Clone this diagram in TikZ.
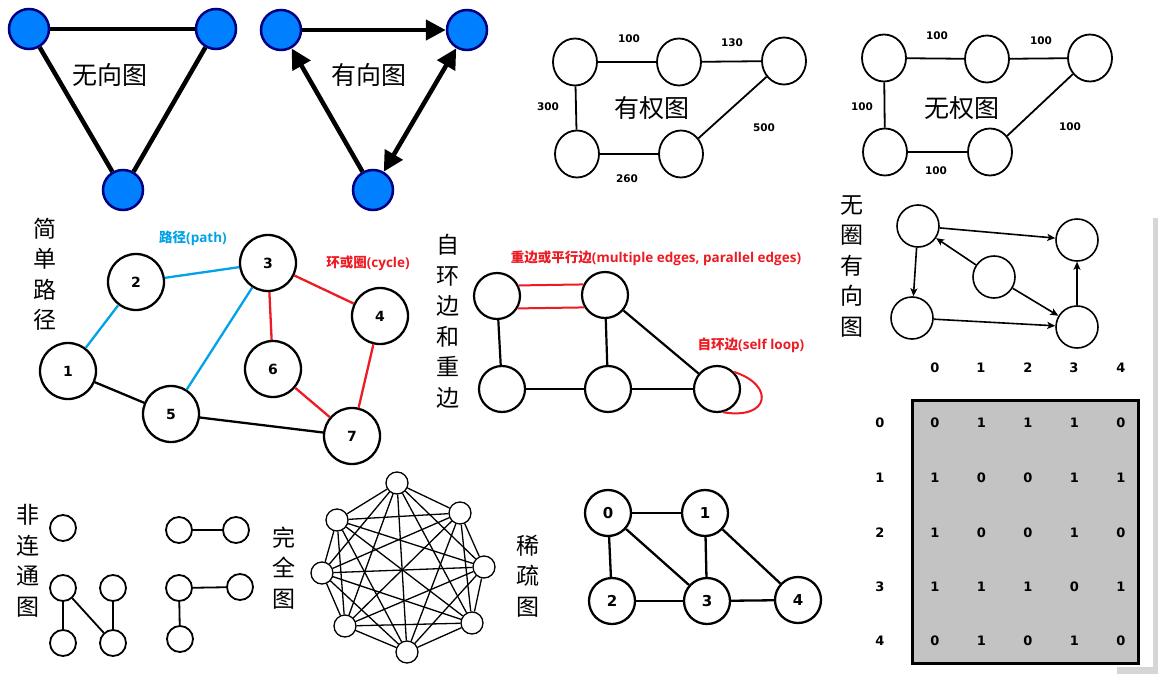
\documentclass[tikz,border=0pt]{standalone}
\usepackage{fontspec}
\setmainfont{DejaVu Sans}
\newfontfamily\cjk{Noto Sans CJK SC}
\newfontfamily\numf{DejaVu Sans}
\newfontfamily\osans{Open Sans}
\usetikzlibrary{arrows.meta,shapes.geometric}
\definecolor{nodeblue}{RGB}{0,128,255}
\definecolor{navy}{RGB}{0,0,128}
\definecolor{pathblue}{RGB}{0,162,232}
\definecolor{cyclered}{RGB}{237,28,36}
\definecolor{matgray}{RGB}{195,195,195}
\definecolor{shadowgray}{RGB}{214,214,214}
\newcommand{\mixlab}[2]{{\cjk\bfseries #1}{\osans\bfseries #2}}
\tikzset{
  bnode/.style={circle, draw=navy, fill=nodeblue, line width=2.5pt, minimum size=40pt, inner sep=0pt},
  fat/.style={line width=4.5pt},
  bigtip/.style={-{Triangle[length=20pt,width=20pt]}},
  bigtips/.style={{Triangle[length=20pt,width=20pt]}-{Triangle[length=20pt,width=20pt]}},
  wnode/.style={ellipse, draw, fill=white, line width=1.8pt, minimum width=44pt, minimum height=47pt, inner sep=0pt},
  wline/.style={line width=1.8pt},
  wlab/.style={font=\numf\bfseries\fontsize{10.5}{10.5}\selectfont, inner sep=0pt},
  cjkbig/.style={font=\cjk\fontsize{25}{25}\selectfont, inner sep=0pt},
  vlabel/.style={font=\cjk\fontsize{23}{30.5}\selectfont, align=center, inner sep=0pt},
  pnode/.style={circle, draw, fill=white, line width=2.3pt, minimum size=56pt, inner sep=0pt, font=\numf\bfseries\fontsize{14}{14}\selectfont},
  pline/.style={line width=2.3pt},
  mnode/.style={circle, draw, fill=white, line width=2.2pt, minimum size=46pt, inner sep=0pt},
  mline/.style={line width=2.2pt},
  redlab/.style={text=cyclered, font=\fontsize{13.5}{13.5}\selectfont, inner sep=0pt},
  bluelab/.style={text=pathblue, font=\fontsize{13.5}{13.5}\selectfont, inner sep=0pt},
  dnode/.style={circle, draw, fill=white, line width=1.6pt, minimum size=42pt, inner sep=0pt},
  darrow/.style={line width=1.6pt, -{Stealth[length=8pt,width=7pt,inset=2pt]}},
  snode/.style={circle, draw, fill=white, line width=1.8pt, minimum size=26pt, inner sep=0pt},
  sline/.style={line width=1.8pt},
  knode/.style={circle, draw, fill=white, line width=1.3pt, minimum size=22pt, inner sep=0pt},
  kline/.style={line width=1.3pt},
  spnode/.style={circle, draw, fill=white, line width=2.3pt, minimum size=46pt, inner sep=0pt, font=\numf\bfseries\fontsize{15}{15}\selectfont},
  matlab/.style={font=\numf\bfseries\fontsize{13}{13}\selectfont, inner sep=0pt},
}
\begin{document}
\begin{tikzpicture}[x=1pt,y=-1pt]
\useasboundingbox (0,0) rectangle (1158,674);
\fill[white] (0,0) rectangle (1158,674);

% shadow strips at right edge
\fill[shadowgray] (1153,218) rectangle (1158,674);
\fill[shadowgray] (1117,667) rectangle (1158,674);

% ---------- undirected graph ----------
\node[bnode] (u1) at (29,29) {};
\node[bnode] (u2) at (216,29) {};
\node[bnode] (u3) at (123,190) {};
\draw[fat] (u1) -- (u2);
\draw[fat] (u1) -- (u3);
\draw[fat] (u2) -- (u3);
\node[cjkbig] (ulab) at (110,75) {无向图};

% ---------- directed graph ----------
\node[bnode] (d1) at (281,30) {};
\node[bnode] (d2) at (467,30) {};
\node[bnode] (d3) at (373,190) {};
\draw[fat,bigtip] (d1) -- (d2);
\draw[fat,bigtip] (d3) -- (d1);
\draw[fat,bigtips] (d2) -- (d3);
\node[cjkbig] (dlab) at (369,75) {有向图};

% ---------- weighted graph ----------
\node[wnode] (wa) at (575,62) {};
\node[wnode] (wb) at (679,62) {};
\node[wnode] (wc) at (784,61) {};
\node[wnode] (wd) at (577,154) {};
\node[wnode] (we) at (681,154) {};
\draw[wline] (wa) -- (wb);
\draw[wline] (wb) -- (wc);
\draw[wline] (wa) -- (wd);
\draw[wline] (wd) -- (we);
\draw[wline] (we) -- (wc);
\node[wlab] (w1) at (629,39) {100};
\node[wlab] (w2) at (732,43) {130};
\node[wlab] (w3) at (548,107) {300};
\node[wlab] (w4) at (764,128) {500};
\node[wlab] (w5) at (627,179) {260};
\node[cjkbig] (wlabel) at (652,108) {有权图};

% ---------- unweighted graph ----------
\node[wnode] (va) at (884,58) {};
\node[wnode] (vb) at (987,59) {};
\node[wnode] (vc) at (1090,58) {};
\node[wnode] (vd) at (885,152) {};
\node[wnode] (ve) at (990,152) {};
\draw[wline] (va) -- (vb);
\draw[wline] (vb) -- (vc);
\draw[wline] (va) -- (vd);
\draw[wline] (vd) -- (ve);
\draw[wline] (ve) -- (vc);
\node[wlab] (v1) at (937,36) {100};
\node[wlab] (v2) at (1041,41) {100};
\node[wlab] (v3) at (862,107) {100};
\node[wlab] (v4) at (1070,127) {100};
\node[wlab] (v5) at (936,171) {100};
\node[cjkbig] (vlabel0) at (962,108) {无权图};

% ---------- simple path ----------
\node[vlabel] (plab) at (45,274) {简\\单\\路\\径};
\node[pnode] (p1) at (68,371) {1};
\node[pnode] (p2) at (136,282) {2};
\node[pnode] (p3) at (268,263) {3};
\node[pnode] (p4) at (380,316) {4};
\node[pnode] (p5) at (171,414) {5};
\node[pnode] (p6) at (273,369) {6};
\node[pnode] (p7) at (352,436) {7};
\draw[pline,pathblue] (p1) -- (p2);
\draw[pline,pathblue] (p2) -- (p3);
\draw[pline,pathblue] (p3) -- (p5);
\draw[pline,cyclered] (p3) -- (p4);
\draw[pline,cyclered] (p3) -- (p6);
\draw[pline,cyclered] (p6) -- (p7);
\draw[pline,cyclered] (p4) -- (p7);
\draw[pline] (p1) -- (p5);
\draw[pline] (p5) -- (p7);
\node[bluelab] (pathlab) at (193,238) {\mixlab{路径}{(path)}};
\node[redlab] (cyclab) at (368,263) {\mixlab{环或圈}{(cycle)}};

% ---------- self loop and multiple edges ----------
\node[vlabel] (mlab) at (448,321.5) {自\\环\\边\\和\\重\\边};
\node[mnode] (ma) at (497,296) {};
\node[mnode] (mb) at (605,295) {};
\node[mnode] (mc) at (502,389) {};
\node[mnode] (md) at (608,389) {};
\node[mnode] (me) at (717,389) {};
\draw[mline] (ma) -- (mc);
\draw[mline] (mb) -- (md);
\draw[mline] (mc) -- (md);
\draw[mline] (md) -- (me);
\draw[mline] (mb) -- (me);
\draw[line width=2pt,cyclered] (ma.26) -- (mb.154);
\draw[line width=2pt,cyclered] (ma.-31) -- (mb.-149);
\draw[line width=2pt,cyclered] (me.45) .. controls (775,385) and (770,420) .. (me.-75);
\node[redlab] (multlab) at (656,258) {\mixlab{重边或平行边}{(multiple edges, parallel edges)}};
\node[redlab] (looplab) at (751,345) {\mixlab{自环边}{(self loop)}};

% ---------- DAG ----------
\node[vlabel] (dagl) at (852,266.5) {无\\圈\\有\\向\\图};
\node[dnode] (ga) at (918,226) {};
\node[dnode] (gb) at (1077,240) {};
\node[dnode] (gc) at (994,277) {};
\node[dnode] (gd) at (912,318) {};
\node[dnode] (ge) at (1077,327) {};
\draw[darrow] (ga) -- (gb);
\draw[darrow] (ga) -- (gd);
\draw[darrow] (gc) -- (ga);
\draw[darrow] (gc) -- (ge);
\draw[darrow] (gd) -- (ge);
\draw[darrow] (ge) -- (gb);

% ---------- adjacency matrix ----------
\node[draw, fill=matgray, line width=3pt, minimum width=226pt, minimum height=263pt, inner sep=0pt] (mat) at (1025,531.5) {};
\foreach \c/\x in {0/935,1/981,2/1028,3/1074,4/1121}
  \node[matlab] (ch\c) at (\x,368) {\c};
\foreach \r/\y in {0/423,1/478,2/533,3/587,4/641}
  \node[matlab] (rh\r) at (880,\y) {\r};
\foreach \row/\y/\vals in {0/423/{0,1,1,1,0},1/478/{1,0,0,1,1},2/533/{1,0,0,1,0},3/587/{1,1,1,0,1},4/641/{0,1,0,1,0}}{
  \foreach \v [count=\c from 0] in \vals {
    \pgfmathsetmacro{\xx}{935+46.5*\c}
    \node[matlab] (e\row\c) at (\xx,\y) {\v};
  }
}

% ---------- disconnected graph ----------
\node[vlabel] (nclab) at (28,561) {非\\连\\通\\图};
\node[snode] (n1) at (63,528) {};
\node[snode] (n2) at (63,588) {};
\node[snode] (n3) at (113,588) {};
\node[snode] (n4) at (63,643) {};
\node[snode] (n5) at (113,643) {};
\draw[sline] (n2) -- (n4);
\draw[sline] (n2) -- (n5);
\draw[sline] (n3) -- (n5);
\node[snode] (k1) at (179,530) {};
\node[snode] (k2) at (236,530) {};
\node[snode] (k3) at (179,588) {};
\node[snode] (k4) at (240,587) {};
\node[snode] (k5) at (180,639) {};
\draw[sline] (k1) -- (k2);
\draw[sline] (k3) -- (k4);
\draw[sline] (k3) -- (k5);

% ---------- complete graph ----------
\node[vlabel] (cplab) at (284,568) {完\\全\\图};
\node[knode] (q1) at (397,483) {};
\node[knode] (q2) at (460,513) {};
\node[knode] (q3) at (484,567) {};
\node[knode] (q4) at (472,623) {};
\node[knode] (q5) at (407,652) {};
\node[knode] (q6) at (345,626) {};
\node[knode] (q7) at (322,573) {};
\node[knode] (q8) at (337,520) {};
\foreach \i in {1,...,7}{
  \pgfmathtruncatemacro{\jstart}{\i+1}
  \foreach \j in {\jstart,...,8}
    \draw[kline] (q\i) -- (q\j);
}

% ---------- sparse graph ----------
\node[vlabel] (splab) at (528,576) {稀\\疏\\图};
\node[spnode] (s0) at (608,513) {0};
\node[spnode] (s1) at (705,513) {1};
\node[spnode] (s2) at (612,601) {2};
\node[spnode] (s3) at (707,601) {3};
\node[spnode] (s4) at (798,600) {4};
\draw[pline] (s0) -- (s1);
\draw[pline] (s0) -- (s2);
\draw[pline] (s0) -- (s3);
\draw[pline] (s1) -- (s3);
\draw[pline] (s1) -- (s4);
\draw[pline] (s2) -- (s3);
\draw[pline] (s3) -- (s4);
\end{tikzpicture}
\end{document}
